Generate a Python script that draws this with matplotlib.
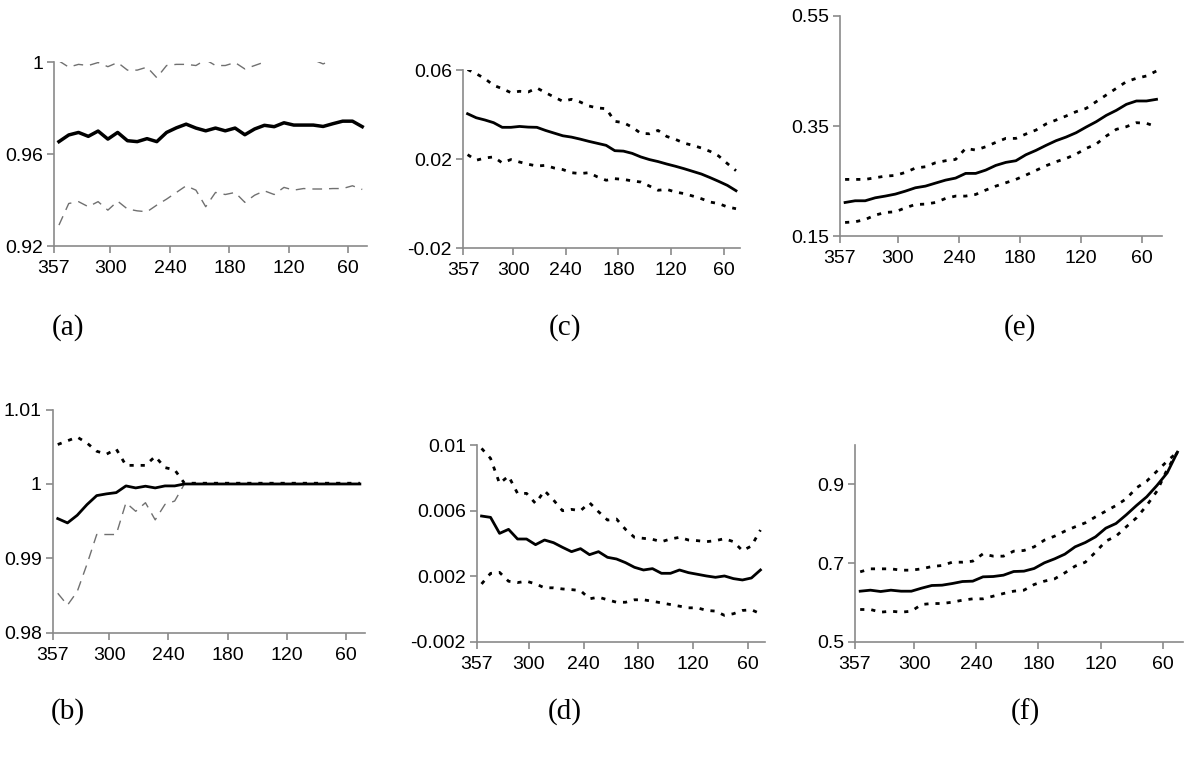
import numpy as np
import matplotlib
matplotlib.use("Agg")
import matplotlib.pyplot as plt

plt.rcParams['font.family'] = ['Liberation Sans', 'DejaVu Sans']

# x positions (days, decreasing)
days = np.linspace(352, 46, 32)
xticks = [357, 300, 240, 180, 120, 60]
xticklabels = ['357', '300', '240', '180', '120', '60']

# (a)
a_mid = [0.9654, 0.9683, 0.9694, 0.9677, 0.9700, 0.9665, 0.9694, 0.9658, 0.9654, 0.9667,
         0.9654, 0.9694, 0.9714, 0.9730, 0.9713, 0.9701, 0.9713, 0.9701, 0.9713, 0.9684,
         0.9709, 0.9725, 0.9719, 0.9736, 0.9726, 0.9726, 0.9726, 0.9720, 0.9732, 0.9743,
         0.9743, 0.9719]
a_low = [0.9291, 0.9385, 0.9393, 0.9371, 0.9393, 0.9356, 0.9395, 0.9361, 0.9353, 0.9349,
         0.9378, 0.9404, 0.9433, 0.9462, 0.9443, 0.9371, 0.9433, 0.9424, 0.9433, 0.9390,
         0.9421, 0.9440, 0.9424, 0.9455, 0.9443, 0.9450, 0.9448, 0.9448, 0.9450, 0.9450,
         0.9462, 0.9446]
a_up = [1.0005, 0.9978, 0.9990, 0.9985, 0.9998, 0.9980, 0.9998, 0.9965, 0.9965, 0.9978,
        0.9932, 0.9985, 0.9990, 0.9990, 0.9985, 1.0010, 0.9985, 0.9985, 0.9998, 0.9970,
        0.9985, 1.0000, 1.0020, 1.0020, 1.0020, 1.0020, 1.0010, 0.9992, 1.0010, 1.0020,
        1.0020, 1.0020]

# (b)
b_mid = [0.99535, 0.99477, 0.9958, 0.99723, 0.99844, 0.99867, 0.99884, 0.99974, 0.99947, 0.9997,
         0.99947, 0.99974, 0.99974] + [1.0] * 19
b_up = [1.0053, 1.0058, 1.0063, 1.0055, 1.0044, 1.0040, 1.0047, 1.0025, 1.0025, 1.0025,
        1.0037, 1.0022, 1.0019] + [1.0001] * 19
b_low = [0.98532, 0.98372, 0.98555, 0.98922, 0.99321, 0.99321, 0.99321, 0.99748, 0.99633, 0.99748,
         0.99518, 0.99725, 0.99771] + [1.0] * 19

# (c)
c_mid = [0.0405, 0.0387, 0.0377, 0.0365, 0.0344, 0.0344, 0.0348, 0.0345, 0.0344, 0.0330,
         0.0318, 0.0306, 0.0300, 0.0291, 0.0281, 0.0272, 0.0263, 0.0239, 0.0237, 0.0227,
         0.0211, 0.0199, 0.0190, 0.0179, 0.0169, 0.0158, 0.0146, 0.0134, 0.0118, 0.0101,
         0.0083, 0.0059]
c_up = [0.0604, 0.0585, 0.0563, 0.0533, 0.0518, 0.0500, 0.0506, 0.0503, 0.0521, 0.0500,
        0.0480, 0.0461, 0.0470, 0.0458, 0.0440, 0.0431, 0.0428, 0.0371, 0.0365, 0.0345,
        0.0317, 0.0315, 0.0330, 0.0303, 0.0290, 0.0273, 0.0263, 0.0251, 0.0236, 0.0215,
        0.0181, 0.0149]
c_low = [0.0221, 0.0196, 0.0206, 0.0211, 0.0184, 0.0199, 0.0188, 0.0178, 0.0170, 0.0173,
         0.0161, 0.0154, 0.0140, 0.0136, 0.0140, 0.0121, 0.0106, 0.0113, 0.0110, 0.0103,
         0.0098, 0.0080, 0.0061, 0.0065, 0.0053, 0.0046, 0.0035, 0.0023, 0.0008, 0.0001,
         -0.0014, -0.0022]

# (d)
d_mid = [0.005676, 0.005595, 0.00462, 0.004864, 0.004275, 0.004275, 0.00393, 0.004214, 0.004052, 0.003768,
         0.003504, 0.003687, 0.003321, 0.003504, 0.003159, 0.003057, 0.002834, 0.00255, 0.002387, 0.002469,
         0.002184, 0.002184, 0.002387, 0.002225, 0.002124, 0.002022, 0.001941, 0.002022, 0.00186, 0.001778,
         0.0019, 0.002387]
d_up = [0.0098, 0.00919, 0.007665, 0.008112, 0.007056, 0.007056, 0.006447, 0.007219, 0.00665, 0.006,
        0.006082, 0.006, 0.006488, 0.00594, 0.005432, 0.005493, 0.004864, 0.004377, 0.004316, 0.004255,
        0.004113, 0.004275, 0.004377, 0.004214, 0.004174, 0.004113, 0.004174, 0.004296, 0.004113, 0.003565,
        0.003849, 0.004823]
d_low = [0.001535, 0.00218, 0.00224, 0.0017, 0.00162, 0.0017, 0.00154, 0.0013, 0.0013, 0.00123,
         0.00119, 0.00113, 0.00063, 0.00073, 0.00057, 0.00042, 0.00042, 0.00057, 0.00057, 0.00048,
         0.00038, 0.00028, 0.00018, 0.00008, 0.00008, -0.00008, -0.00012, -0.00038, -0.00028, -0.00008,
         -0.00004, -0.00028]

# (e)
e_mid = [0.2112, 0.2143, 0.2143, 0.2197, 0.2228, 0.2264, 0.2318, 0.2379, 0.2409, 0.2464,
         0.2518, 0.2555, 0.2640, 0.2640, 0.2700, 0.2785, 0.2840, 0.2870, 0.2979, 0.3058,
         0.3149, 0.3234, 0.3300, 0.3379, 0.3482, 0.3579, 0.3694, 0.3785, 0.3894, 0.3955,
         0.3955, 0.3985]
e_up = [0.2531, 0.2531, 0.2531, 0.2561, 0.2591, 0.2603, 0.2658, 0.2737, 0.2761, 0.2833,
        0.2870, 0.2894, 0.3094, 0.3064, 0.3124, 0.3203, 0.3276, 0.3276, 0.3355, 0.3427,
        0.3537, 0.3609, 0.3682, 0.3761, 0.3821, 0.3943, 0.4064, 0.4185, 0.4306, 0.4367,
        0.4409, 0.4500]
e_low = [0.1749, 0.1761, 0.1803, 0.1882, 0.1931, 0.1943, 0.2015, 0.2076, 0.2082, 0.2112,
         0.2185, 0.2228, 0.2228, 0.2258, 0.2337, 0.2409, 0.2470, 0.2531, 0.2609, 0.2694,
         0.2779, 0.2852, 0.2912, 0.2991, 0.3094, 0.3173, 0.3318, 0.3440, 0.3488, 0.3561,
         0.3549, 0.3488]

# (f)
f_mid = [0.6289, 0.6315, 0.6281, 0.6315, 0.6289, 0.6289, 0.6366, 0.6434, 0.6442, 0.6484,
         0.6535, 0.6544, 0.6654, 0.6662, 0.6696, 0.6789, 0.6798, 0.6866, 0.7010, 0.7111,
         0.7230, 0.7416, 0.7526, 0.7670, 0.7890, 0.8009, 0.8229, 0.8466, 0.8687, 0.8975,
         0.9296, 0.9822]
f_up = [0.6781, 0.6857, 0.6857, 0.6857, 0.6823, 0.6823, 0.6857, 0.6916, 0.6942, 0.7026,
        0.7026, 0.7052, 0.7238, 0.7179, 0.7179, 0.7306, 0.7323, 0.7416, 0.7586, 0.7687,
        0.7814, 0.7924, 0.8026, 0.8178, 0.8322, 0.8466, 0.8636, 0.8915, 0.9085, 0.9339,
        0.9593, 0.9822]
f_low = [0.5824, 0.5824, 0.5756, 0.5781, 0.5756, 0.5781, 0.5951, 0.5976, 0.5976, 0.6010,
         0.6061, 0.6095, 0.6095, 0.6163, 0.6230, 0.6289, 0.6315, 0.6459, 0.6544, 0.6603,
         0.6755, 0.6925, 0.7026, 0.7281, 0.7560, 0.7687, 0.7924, 0.8153, 0.8466, 0.8831,
         0.9381, 0.9822]

solid = dict(color='black', lw=2.0, ls='-')
dotted = dict(color='black', lw=2.0, ls=(0, (1.5, 2.5)))
grey_dash = dict(color='#707070', lw=1.0, ls=(0, (7, 5)))


def panel(rect, mid, up, low, up_style, low_style, ylim, yticks, yticklabels, label, label_xy, mid_lw=2.0):
    ax = fig.add_axes(rect)
    ax.plot(days, up, **up_style)
    ax.plot(days, low, **low_style)
    ax.plot(days, mid, **dict(solid, lw=mid_lw))
    ax.set_xlim(357, 41)
    ax.set_ylim(*ylim)
    ax.set_xticks(xticks)
    ax.set_xticklabels(xticklabels)
    ax.set_yticks(yticks)
    ax.set_yticklabels(yticklabels)
    for side in ['top', 'right']:
        ax.spines[side].set_visible(False)
    for side in ['left', 'bottom']:
        ax.spines[side].set_color('#8a8a8a')
        ax.spines[side].set_linewidth(1.2)
    ax.tick_params(axis='both', colors='#8a8a8a', labelcolor='black', labelsize=14,
                   length=5, width=1.2, direction='out')
    ax.tick_params(axis='x', pad=5)
    ax.tick_params(axis='y', pad=3)
    fig.text(label_xy[0] / 1200, 1 - label_xy[1] / 757, label, family='Liberation Serif',
             fontsize=21, ha='center', va='center')
    return ax


fig = plt.figure(figsize=(12, 7.57), dpi=100)

panel([0.045, 0.675, 0.261, 0.243], a_mid, a_up, a_low, grey_dash, grey_dash,
      (0.92, 1.0), [0.92, 0.96, 1.0], ['0.92', '0.96', '1'], '(a)', (68, 328), mid_lw=2.5)
panel([0.386, 0.672, 0.231, 0.235], c_mid, c_up, c_low, dotted, dotted,
      (-0.02, 0.06), [-0.02, 0.02, 0.06], ['-0.02', '0.02', '0.06'], '(c)', (565, 328))
panel([0.700, 0.688, 0.268, 0.291], e_mid, e_up, e_low, dotted, dotted,
      (0.15, 0.55), [0.15, 0.35, 0.55], ['0.15', '0.35', '0.55'], '(e)', (1020, 328))
panel([0.044, 0.164, 0.26, 0.295], b_mid, b_up, b_low, dotted, grey_dash,
      (0.98, 1.01), [0.98, 0.99, 1.0, 1.01], ['0.98', '0.99', '1', '1.01'], '(b)', (68, 712))
panel([0.3975, 0.152, 0.24, 0.260], d_mid, d_up, d_low, dotted, dotted,
      (-0.002, 0.01), [-0.002, 0.002, 0.006, 0.01], ['-0.002', '0.002', '0.006', '0.01'], '(d)', (565, 712))
panel([0.7125, 0.152, 0.273, 0.260], f_mid, f_up, f_low, dotted, dotted,
      (0.5, 1.0), [0.5, 0.7, 0.9], ['0.5', '0.7', '0.9'], '(f)', (1025, 712))

fig.savefig('out.png', dpi=100)
